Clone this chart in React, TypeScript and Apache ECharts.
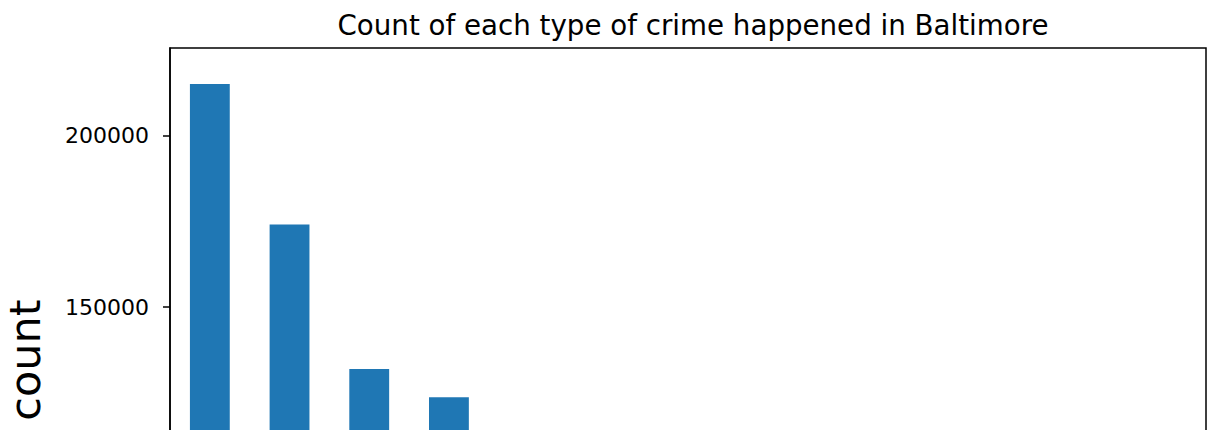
import React, { useEffect, useRef } from "react";
import * as echarts from "echarts";

const categories = [
  "LARCENY",
  "COMMON ASSAULT",
  "BURGLARY",
  "LARCENY FROM AUTO",
  "AGG. ASSAULT",
  "AUTO THEFT",
  "ROBBERY - STREET",
  "ROBBERY - COMMERCIAL",
  "SHOOTING",
  "ROBBERY - RESIDENCE",
  "HOMICIDE",
  "RAPE",
  "ARSON",
];
const counts = [215000, 174100, 132000, 123800, 72000, 66000, 50000, 14000, 9000, 6000, 4500, 4000, 2000];
// only the tick labels that are visible in the (cropped) reference
const yTicks = [150000, 200000];
const yMin = 43800;
const yMax = 225470;
const titleText = "Count of each type of crime happened in Baltimore";
const yName = "count";

const FONT = "DejaVu Sans";

export default function App() {
  const ref = useRef<HTMLDivElement>(null);
  useEffect(() => {
    if (!ref.current) return;
    const chart = echarts.init(ref.current, null, { renderer: "svg" });
    chart.setOption({
      animation: false,
      backgroundColor: "#fff",
      title: {
        text: titleText,
        left: 688,
        top: 6,
        textAlign: "center",
        textStyle: { fontFamily: FONT, fontSize: 27.7, fontWeight: "normal", color: "#000" },
      },
      grid: {
        left: 170,
        top: 48,
        width: 1036,
        height: 624,
        outerBoundsMode: "none",
        containLabel: false,
        show: true,
        borderColor: "#000",
        borderWidth: 1.5,
        backgroundColor: "transparent",
      },
      xAxis: {
        type: "category",
        data: categories,
        axisLine: { show: true, lineStyle: { color: "#000", width: 1.5 } },
        axisTick: { show: true, alignWithLabel: true, length: 7, lineStyle: { color: "#000", width: 1.5 } },
        axisLabel: { show: false },
        splitLine: { show: false },
      },
      yAxis: {
        type: "value",
        min: yMin,
        max: yMax,
        name: yName,
        nameLocation: "middle",
        nameRotate: 90,
        nameGap: 124,
        nameTextStyle: { fontFamily: FONT, fontSize: 43, color: "#000" },
        axisLine: { show: true, lineStyle: { color: "#000", width: 1.5 } },
        axisTick: { show: true, length: 7, customValues: yTicks, lineStyle: { color: "#000", width: 1.5 } },
        axisLabel: {
          customValues: yTicks,
          formatter: (v: number) => String(v),
          fontFamily: FONT,
          fontSize: 22,
          color: "#000",
          margin: 21,
        },
        splitLine: { show: false },
      },
      series: [
        {
          type: "bar",
          data: counts,
          barWidth: "50%",
          itemStyle: { color: "#1f77b4" },
        },
      ],
    });
    return () => chart.dispose();
  }, []);
  return (
    <div
      style={{
        position: "fixed",
        left: 0,
        top: 0,
        width: 1207,
        height: 430,
        overflow: "hidden",
        background: "#fff",
      }}
    >
      <div ref={ref} style={{ width: 1207, height: 760 }} />
    </div>
  );
}
